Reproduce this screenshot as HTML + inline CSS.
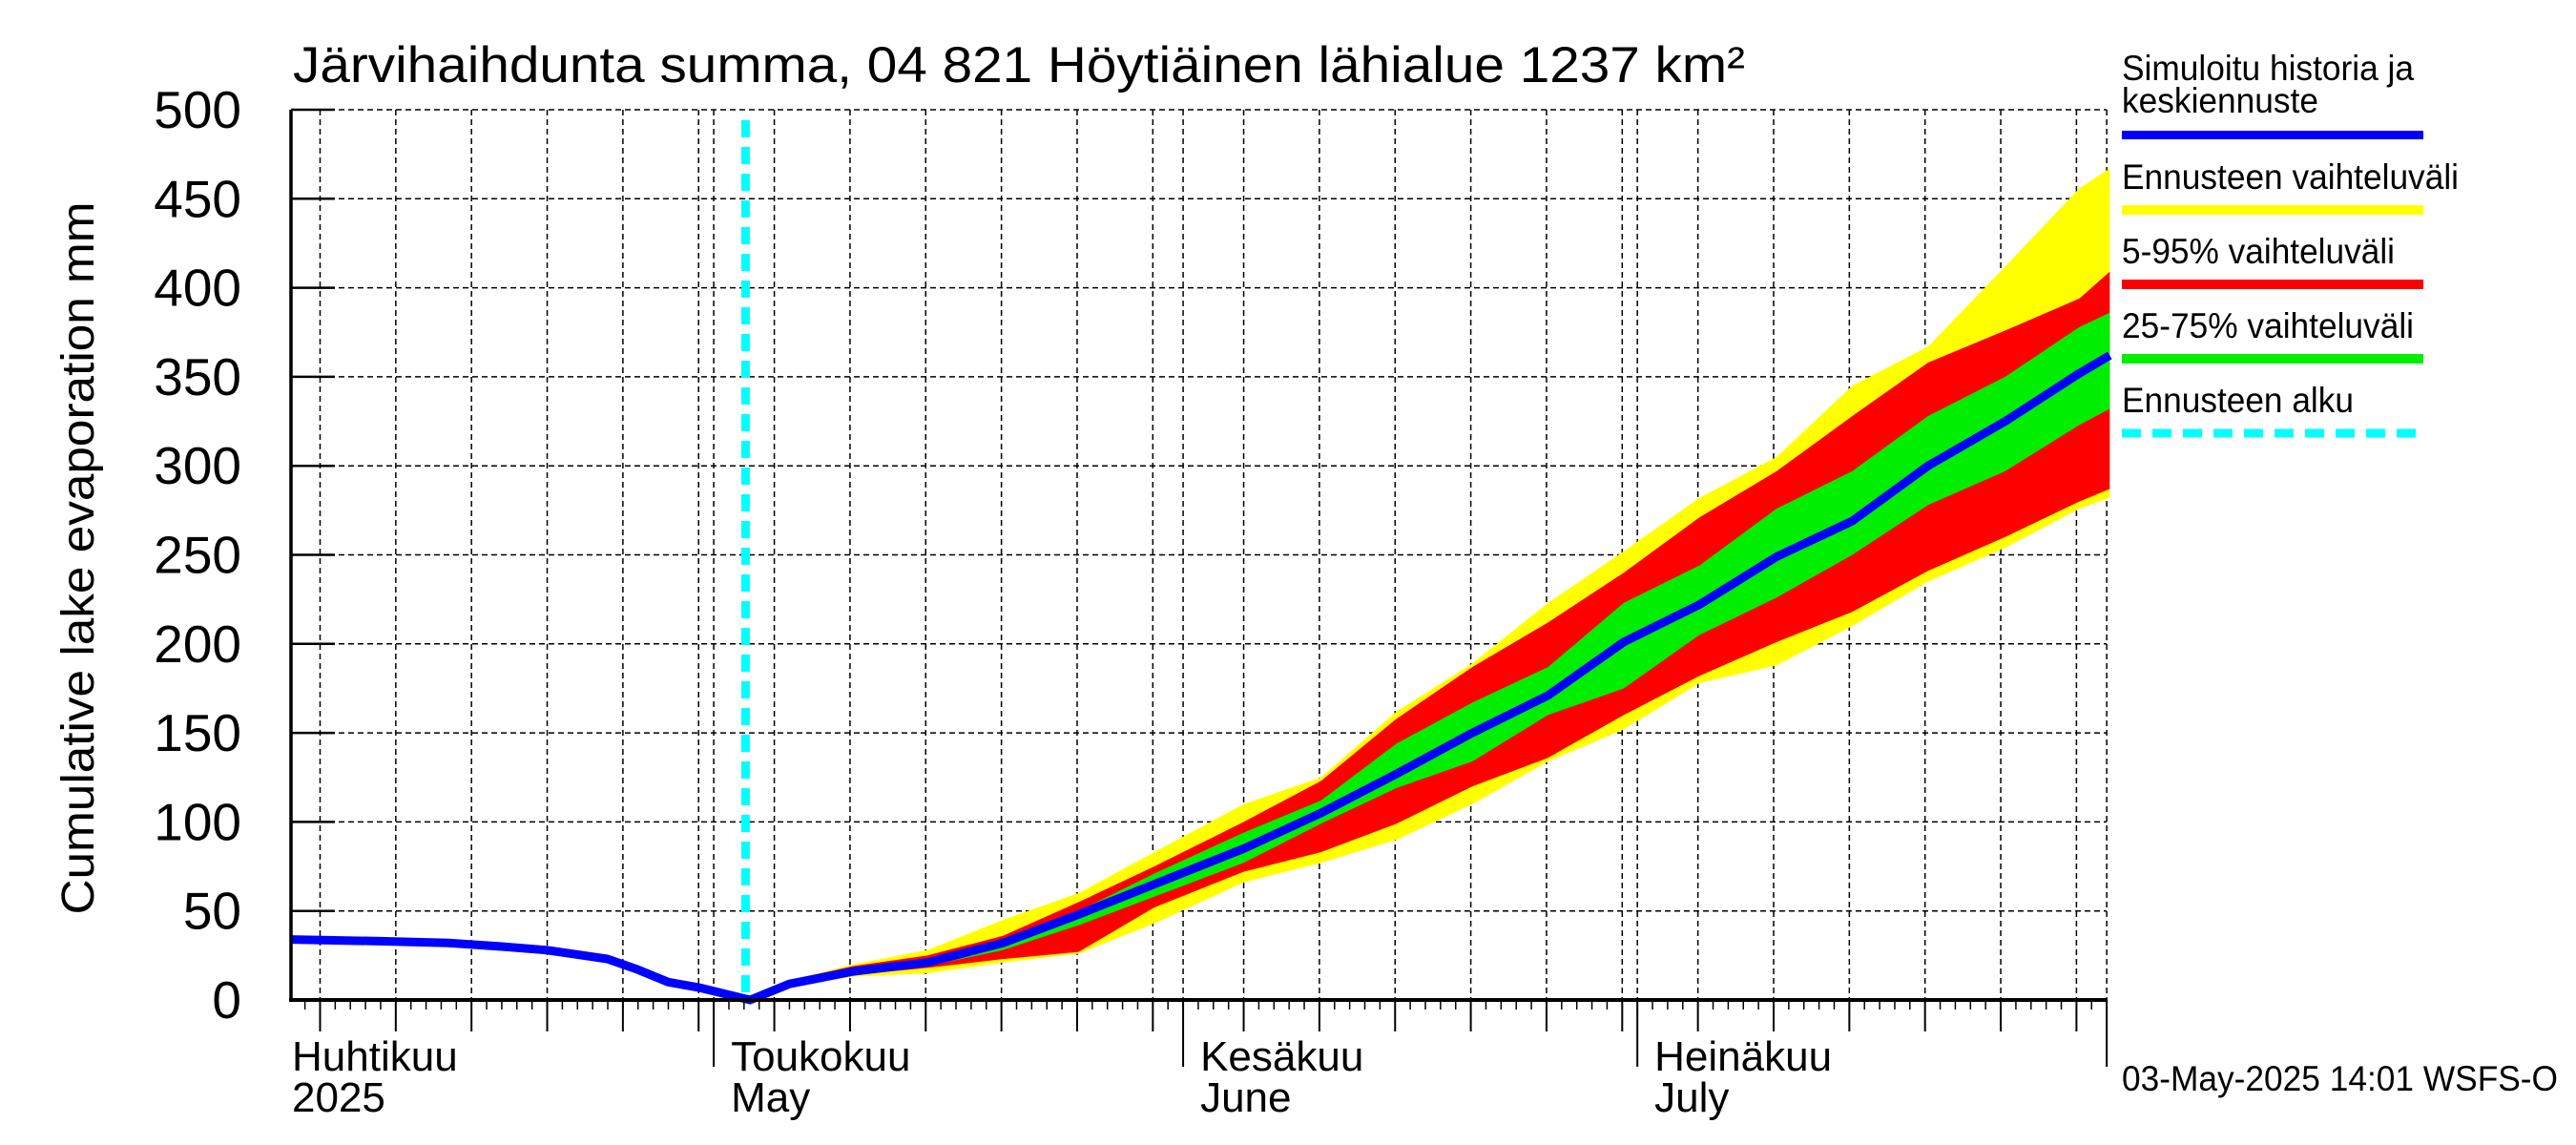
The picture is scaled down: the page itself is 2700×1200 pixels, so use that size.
<!DOCTYPE html>
<html><head><meta charset="utf-8"><style>
html,body{margin:0;padding:0;background:#fff;}
svg{display:block;font-family:"Liberation Sans",Arial,sans-serif;}
</style></head><body>
<svg id="chart" width="2700" height="1200" viewBox="0 0 2700 1200" xmlns="http://www.w3.org/2000/svg">
<g id="grid"></g>
<g id="bands"></g>
<g id="lines"></g>
<g id="axes"></g>
<text x="307" y="86" font-size="53" textLength="1522" lengthAdjust="spacingAndGlyphs">Järvihaihdunta summa, 04 821 Höytiäinen lähialue 1237 km²</text>
<text transform="translate(98,585) rotate(-90)" text-anchor="middle" font-size="48" textLength="747" lengthAdjust="spacingAndGlyphs">Cumulative lake evaporation   mm</text>
<g>
<text x="2224" y="84" font-size="37" textLength="306" lengthAdjust="spacingAndGlyphs">Simuloitu historia ja</text>
<text x="2224" y="118" font-size="37" textLength="206" lengthAdjust="spacingAndGlyphs">keskiennuste</text>
<rect x="2224" y="137" width="316" height="9" fill="#0000ff"/>
<text x="2224" y="198" font-size="37" textLength="353" lengthAdjust="spacingAndGlyphs">Ennusteen vaihteluväli</text>
<rect x="2224" y="215" width="316" height="10" fill="#ffff00"/>
<text x="2224" y="276" font-size="37" textLength="286" lengthAdjust="spacingAndGlyphs">5-95% vaihteluväli</text>
<rect x="2224" y="293" width="316" height="10" fill="#ff0000"/>
<text x="2224" y="354" font-size="37" textLength="306" lengthAdjust="spacingAndGlyphs">25-75% vaihteluväli</text>
<rect x="2224" y="371" width="316" height="10" fill="#00ee00"/>
<text x="2224" y="432" font-size="37" textLength="243" lengthAdjust="spacingAndGlyphs">Ennusteen alku</text>
<line x1="2224" y1="454" x2="2540" y2="454" stroke="#00ffff" stroke-width="9" stroke-dasharray="20 12"/>
</g>
<text x="2224" y="1143" font-size="37" textLength="457" lengthAdjust="spacingAndGlyphs">03-May-2025 14:01 WSFS-O</text>
</svg>
<script>
// data (day index: 0 = 1 April 2025)
const histDays = [2.1, 8, 12.5, 16, 19, 23, 25, 27, 29, 32.4];
const histVals = [34, 33, 32, 30, 28, 23, 17, 10, 7, 0];
const fcDays = [32.4, 35, 39.2, 44.1, 49.1, 54.1, 59.1, 65, 70.1, 75.1, 80.1, 85.1, 90.1, 95.1, 100.2, 105.2, 110.2, 115.3, 120.2, 122.2];
const median = [0, 9, 16, 21, 32, 48, 65, 85, 105, 127, 150, 171, 201, 222, 249, 269, 300, 325, 352, 362];
const yellowLo = [0, 8, 13, 15, 21, 26, 43, 66, 77, 90, 110, 134, 152, 178, 188, 210, 235, 254, 276, 282];
const yellowHi = [0, 11, 20, 28, 45, 60, 83, 110, 125, 162, 189, 223, 252, 282, 305, 345, 367, 412, 456, 467];
const redLo = [0, 8, 14, 18, 23, 27, 52, 72, 83, 99, 120, 136, 160, 182, 201, 218, 241, 260, 280, 287];
const redHi = [0, 11, 19, 25, 36, 55, 75, 100, 123, 158, 187, 212, 240, 271, 297, 328, 358, 376, 394, 409];
const greenLo = [0, 9, 15, 19, 28, 42, 58, 77, 99, 119, 134, 160, 175, 205, 226, 250, 278, 297, 323, 332];
const greenHi = [0, 10, 17, 22, 34, 50, 71, 94, 112, 144, 167, 187, 223, 244, 276, 297, 328, 350, 378, 386];
const forecastStartDay = 32.1;
const yTicks = [0, 50, 100, 150, 200, 250, 300, 350, 400, 450, 500];
const monthStarts = [0, 30, 61, 91, 122];
const monthFi = ["Huhtikuu", "Toukokuu", "Kesäkuu", "Heinäkuu"];
const monthEn = ["2025", "May", "June", "July"];

const NS = "http://www.w3.org/2000/svg";
const L = 305, R = 2208, T = 115, B = 1048;
const dStart = 2.1, dEnd = 122;
function xs(d){ return 272 + 15.87 * d; }
function ys(v){ return B - (v / 500) * (B - T); }
function mk(tag, attrs, parent){
  const e = document.createElementNS(NS, tag);
  for (const k in attrs) e.setAttribute(k, attrs[k]);
  parent.appendChild(e);
  return e;
}
const grid = document.getElementById('grid');
const bands = document.getElementById('bands');
const lines = document.getElementById('lines');
const axes = document.getElementById('axes');

yTicks.forEach(v => {
  if (v > 0) {
    const g = mk('line', {x1: L, x2: R, y1: ys(v), y2: ys(v), stroke: '#000', 'stroke-width': 1.5, 'stroke-dasharray': '6 4'}, grid);
    
    
  }
  const t = mk('line', {x1: L, x2: L + 46, y1: ys(v), y2: ys(v), stroke: '#000', 'stroke-width': 2.5}, axes);
  
  
  const lb = mk('text', {x: 253, y: ys(v) + 19, 'text-anchor': 'end', 'font-size': 55}, axes);
  lb.textContent = v;
  
  
});

const gridDays = [];
for (let m = 0; m < 4; m++) {
  gridDays.push(monthStarts[m]);
  for (let dd = 5; dd <= 30; dd += 5) gridDays.push(monthStarts[m] + dd - 1);
}
gridDays.push(122);
gridDays.forEach(d => {
  if (d < dStart || d > dEnd) return;
  const g = mk('line', {x1: xs(d), x2: xs(d), y1: T, y2: B, stroke: '#000', 'stroke-width': 1.5, 'stroke-dasharray': '6 4'}, grid);
  
  
  const isMonth = monthStarts.indexOf(d) >= 0;
  const t = mk('line', {x1: xs(d), x2: xs(d), y1: B, y2: isMonth ? 1118 : 1081, stroke: '#000', 'stroke-width': 2}, axes);
  
  
});
for (let d = 3; d <= 121; d++) {
  const t = mk('line', {x1: xs(d), x2: xs(d), y1: B, y2: 1058, stroke: '#000', 'stroke-width': 1.5}, axes);
  
  
}
for (let m = 0; m < 4; m++) {
  const x = m === 0 ? 306 : xs(monthStarts[m]) + 18;
  const a = mk('text', {x: x, y: 1122, 'font-size': 44}, axes);
  a.textContent = monthFi[m];
  
  
  const b = mk('text', {x: x, y: 1165, 'font-size': 44}, axes);
  b.textContent = monthEn[m];
  
  
}

function band(lo, hi, color, name){
  let pts = [];
  for (let i = 0; i < fcDays.length; i++) pts.push(xs(fcDays[i]).toFixed(1) + ',' + ys(hi[i]).toFixed(1));
  for (let i = fcDays.length - 1; i >= 0; i--) pts.push(xs(fcDays[i]).toFixed(1) + ',' + ys(lo[i]).toFixed(1));
  const p = mk('polygon', {points: pts.join(' '), fill: color}, bands);
  
  
}
band(yellowLo, yellowHi, '#ffff00', 'band-full-range');
band(redLo, redHi, '#ff0000', 'band-5-95');
band(greenLo, greenHi, '#00ee00', 'band-25-75');

const fs = mk('line', {x1: xs(forecastStartDay), x2: xs(forecastStartDay), y1: 126, y2: B, stroke: '#00ffff', 'stroke-width': 9, 'stroke-dasharray': '18 10'}, lines);



let mp = [];
histDays.forEach((d, i) => mp.push(xs(d).toFixed(1) + ',' + ys(histVals[i]).toFixed(1)));
fcDays.forEach((d, i) => { if (i > 0) mp.push(xs(d).toFixed(1) + ',' + ys(median[i]).toFixed(1)); });
const ml = mk('polyline', {points: mp.join(' '), fill: 'none', stroke: '#0000ff', 'stroke-width': 9, 'stroke-linejoin': 'round'}, lines);



const ax1 = mk('line', {x1: L, x2: L, y1: T, y2: B + 2, stroke: '#000', 'stroke-width': 3.5}, axes);


const ax2 = mk('line', {x1: L - 2, x2: R, y1: B, y2: B, stroke: '#000', 'stroke-width': 4}, axes);


</script>
</body></html>
